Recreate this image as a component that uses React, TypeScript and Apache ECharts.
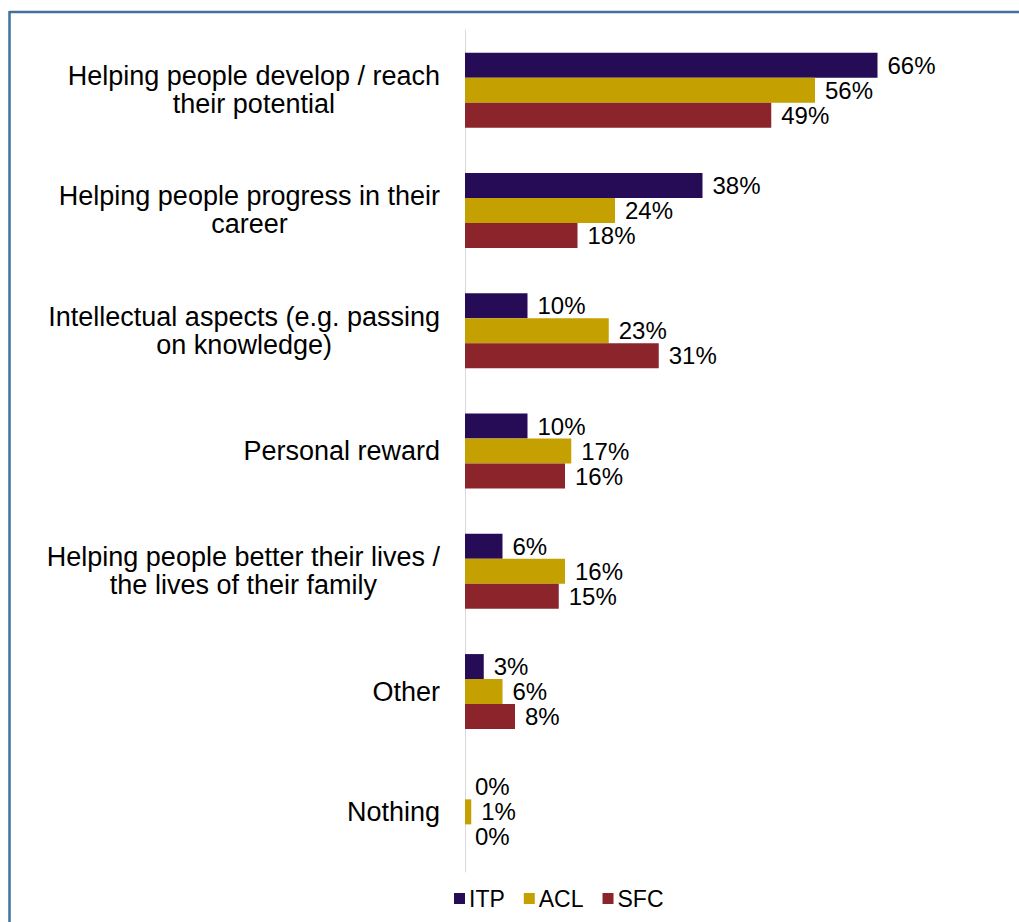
import React, { useEffect, useRef } from "react";
import * as echarts from "echarts";

const categories = [
  "Helping people develop / reach\ntheir potential",
  "Helping people progress in their\ncareer",
  "Intellectual aspects (e.g. passing\non knowledge)",
  "Personal reward",
  "Helping people better their lives /\nthe lives of their family",
  "Other",
  "Nothing",
];
const itpValues = [66, 38, 10, 10, 6, 3, 0];
const aclValues = [56, 24, 23, 17, 16, 6, 1];
const sfcValues = [49, 18, 31, 16, 15, 8, 0];
const seriesNames = ["ITP", "ACL", "SFC"];
const seriesColors = ["#260B57", "#C4A000", "#8B252B"];

const FONT = "'Liberation Sans', Arial, sans-serif";

export default function App() {
  const ref = useRef<HTMLDivElement>(null);
  useEffect(() => {
    if (!ref.current) return;
    const chart = echarts.init(ref.current, undefined, { renderer: "svg" });
    const data = [itpValues, aclValues, sfcValues];
    chart.setOption({
      animation: false,
      backgroundColor: "#ffffff",
      textStyle: { fontFamily: FONT },
      grid: { left: 465, right: 54, top: 30, bottom: 50, containLabel: false },
      xAxis: {
        type: "value",
        min: 0,
        max: 80,
        show: false,
      },
      yAxis: {
        type: "category",
        inverse: true,
        data: categories,
        axisLine: { show: true, lineStyle: { color: "#D9D9D9", width: 1 } },
        axisTick: { show: false },
        axisLabel: {
          margin: 25,
          align: "right",
          color: "#000000",
          fontFamily: FONT,
          fontSize: 27,
          lineHeight: 28,
          formatter: (v: string) =>
            v
              .split("\n")
              .map((l) => `{c|${l}}`)
              .join("\n"),
          rich: {
            c: {
              align: "center",
              fontFamily: FONT,
              fontSize: 27,
              lineHeight: 28,
              color: "#000000",
            },
          },
        },
      },
      legend: {
        top: 882,
        left: 449,
        itemWidth: 11,
        itemHeight: 11,
        itemGap: 19,
        icon: "rect",
        textStyle: { fontFamily: FONT, fontSize: 23, color: "#000000", padding: [0, 0, 0, -1] },
        data: seriesNames,
      },
      graphic: [
        {
          type: "line",
          shape: { x1: 9.5, y1: 12, x2: 1019, y2: 12 },
          style: { stroke: "#41719C", lineWidth: 2.5 },
          silent: true,
        },
        {
          type: "line",
          shape: { x1: 9.5, y1: 11, x2: 9.5, y2: 922 },
          style: { stroke: "#41719C", lineWidth: 2.5 },
          silent: true,
        },
      ],
      series: seriesNames.map((name, i) => ({
        name,
        type: "bar",
        data: data[i],
        barWidth: 25,
        barGap: "0%",
        itemStyle: { color: seriesColors[i] },
        label: {
          show: true,
          position: "right",
          distance: 10,
          formatter: (p: any) => `${p.value}%`,
          fontFamily: FONT,
          fontSize: 24,
          lineHeight: 24,
          color: "#000000",
        },
      })),
    });
    return () => chart.dispose();
  }, []);
  return (
    <div
      ref={ref}
      style={{ position: "fixed", left: 0, top: 0, width: 1019, height: 922 }}
    />
  );
}
